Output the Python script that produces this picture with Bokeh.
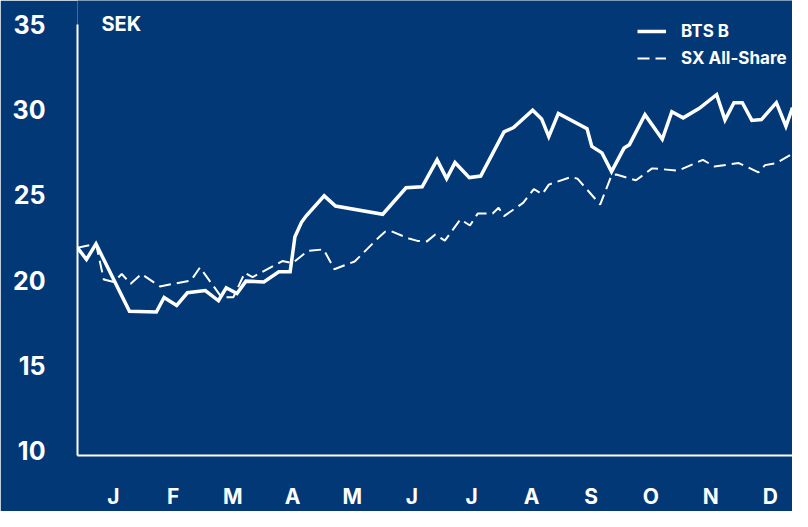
from bokeh.plotting import figure
from bokeh.models import Range1d, FixedTicker, Label
from bokeh.embed import file_html
from bokeh.resources import INLINE

BG = "#033876"
FONT = "Inter"

# x in decimal months since 1 January
bts_x = [0.0, 0.15, 0.31, 0.87, 1.32, 1.45, 1.66, 1.84, 2.14, 2.36, 2.49, 2.67, 2.82,
         3.12, 3.37, 3.56, 3.64, 3.75, 3.83, 4.13, 4.32, 5.11, 5.50, 5.77, 6.02, 6.18,
         6.32, 6.56, 6.75, 7.14, 7.30, 7.62, 7.77, 7.89, 8.05, 8.53, 8.61, 8.78, 8.94,
         9.15, 9.24, 9.50, 9.79, 9.95, 10.14, 10.41, 10.70, 10.84, 10.99, 11.13, 11.29,
         11.45, 11.70, 11.86, 11.97]
bts_y = [21.9, 21.21, 22.12, 18.18, 18.13, 18.98, 18.52, 19.26, 19.39, 18.79, 19.55, 19.22, 19.94,
         19.89, 20.49, 20.49, 22.54, 23.39, 23.77, 24.94, 24.34, 23.86, 25.41, 25.47, 27.05, 25.95,
         26.89, 26.01, 26.10, 28.69, 28.94, 29.96, 29.45, 28.41, 29.77, 28.88, 27.84, 27.46, 26.36,
         27.74, 27.94, 29.70, 28.26, 29.87, 29.51, 30.07, 30.87, 29.39, 30.40, 30.40, 29.36,
         29.41, 30.40, 29.02, 30.11]

sx_x = [0.0, 0.31, 0.44, 0.61, 0.74, 0.89, 1.07, 1.38, 1.90, 2.05, 2.41, 2.61, 2.80, 2.93,
        3.43, 3.60, 3.86, 4.12, 4.30, 4.64, 5.06, 5.15, 5.24, 5.55, 5.69, 5.85, 5.99, 6.15,
        6.41, 6.57, 6.70, 6.95, 7.05, 7.14, 7.46, 7.64, 7.78, 7.89, 8.26, 8.37, 8.75, 8.94,
        9.02, 9.35, 9.62, 10.06, 10.47, 10.66, 11.07, 11.40, 11.51, 11.70, 11.95]
sx_y = [21.9, 22.12, 20.04, 19.89, 20.36, 19.79, 20.36, 19.63, 19.98, 20.74, 19.0, 19.0, 20.43, 20.17,
        21.12, 21.0, 21.72, 21.80, 20.64, 21.09, 22.56, 22.84, 22.88, 22.44, 22.30, 22.27, 22.67, 22.31,
        23.56, 23.20, 23.90, 23.90, 24.24, 23.75, 24.53, 25.34, 25.03, 25.60, 26.04, 25.95, 24.43, 26.14,
        26.19, 25.85, 26.55, 26.42, 27.05, 26.66, 26.86, 26.32, 26.74, 26.86, 27.37]

month_labels = ["J", "F", "M", "A", "M", "J", "J", "A", "S", "O", "N", "D"]
y_ticks = [10, 15, 20, 25, 30, 35]
series_names = ["BTS B", "SX All-Share"]
unit_label = "SEK"

Y0, Y_TOP_AXIS, Y_END = 9.72, 35, 36.39

p = figure(width=792, height=511, output_backend="svg", toolbar_location=None,
           x_range=Range1d(0, 11.97), y_range=Range1d(Y0, Y_END),
           min_border_left=77, min_border_right=0, min_border_top=0, min_border_bottom=51)
p.background_fill_color = BG
p.border_fill_color = BG
p.outline_line_color = None
p.grid.visible = False

p.line(bts_x, bts_y, line_color="white", line_width=3.5, line_join="miter",
       legend_label=series_names[0])
p.line(sx_x, sx_y, line_color="white", line_width=2, line_dash="12 6",
       legend_label=series_names[1])

# y axis
p.yaxis.ticker = FixedTicker(ticks=y_ticks)
p.yaxis.bounds = (Y0, Y_TOP_AXIS)
p.yaxis.axis_line_color = "white"
p.yaxis.axis_line_width = 2
p.yaxis.major_tick_line_color = None
p.yaxis.minor_tick_line_color = None
p.yaxis.major_tick_out = 0
p.yaxis.major_label_standoff = 32
p.yaxis.major_label_text_color = "white"
p.yaxis.major_label_text_font = FONT
p.yaxis.major_label_text_font_style = "bold"
p.yaxis.major_label_text_font_size = "25px"

# x axis
ticks = [k + 0.6 for k in range(12)]
p.xaxis.ticker = FixedTicker(ticks=ticks)
p.xaxis.major_label_overrides = {t: lab for t, lab in zip(ticks, month_labels)}
p.xaxis.axis_line_color = "white"
p.xaxis.axis_line_width = 2
p.xaxis.major_tick_line_color = None
p.xaxis.minor_tick_line_color = None
p.xaxis.major_tick_out = 0
p.xaxis.major_label_standoff = 28
p.xaxis.major_label_text_color = "white"
p.xaxis.major_label_text_font = FONT
p.xaxis.major_label_text_font_style = "bold"
p.xaxis.major_label_text_font_size = "21px"

p.add_layout(Label(x=0.40, y=Y_TOP_AXIS, text=unit_label, text_color="white", text_font=FONT,
                   text_font_style="bold", text_font_size="20px",
                   text_baseline="middle", text_align="left"))

lg = p.legend[0]
lg.location = (560, 387)
lg.padding = 0
lg.margin = 0
lg.spacing = 7
lg.glyph_width = 29
lg.glyph_height = 20
lg.label_height = 20
lg.label_standoff = 15
lg.border_line_color = None
lg.background_fill_alpha = 0
lg.label_text_color = "white"
lg.label_text_font = FONT
lg.label_text_font_style = "bold"
lg.label_text_font_size = "17px"

open("out.html", "w").write(file_html(p, INLINE))
